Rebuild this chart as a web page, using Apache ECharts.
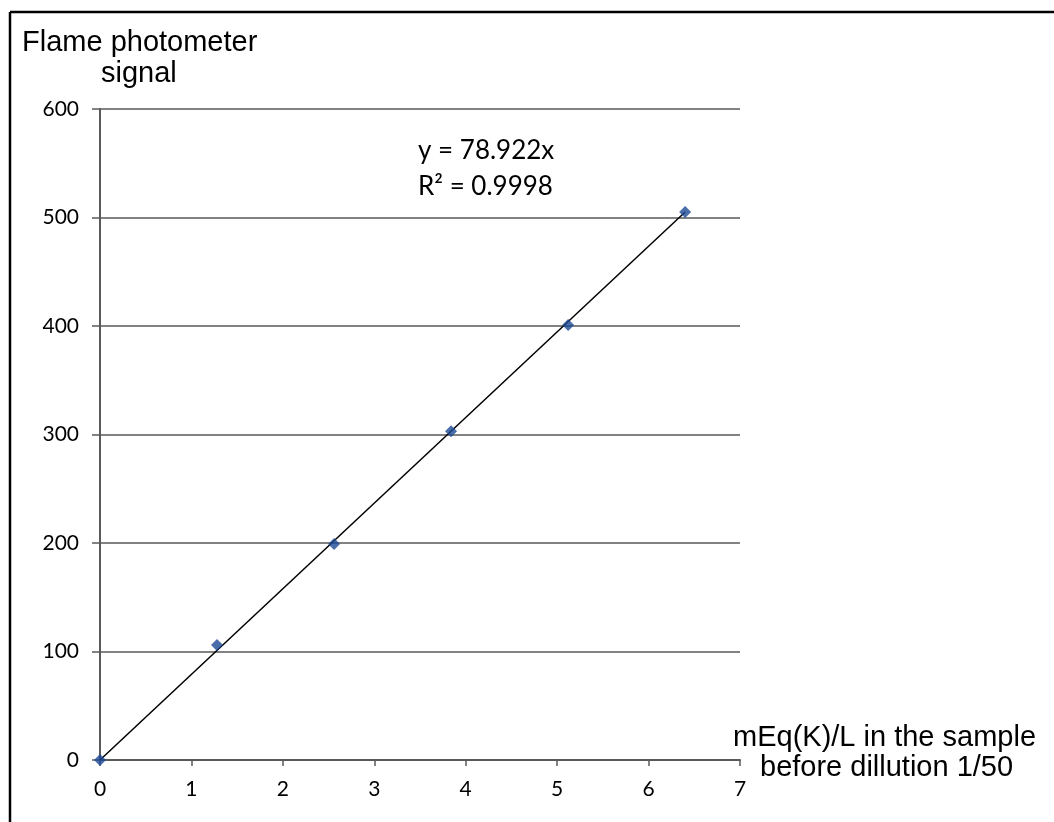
<!DOCTYPE html>
<html>
<head>
<meta charset="utf-8">
<script src="https://cdn.jsdelivr.net/npm/echarts@6/dist/echarts.min.js"></script>
<style>
  html, body { margin: 0; padding: 0; background: #fff; }
  #chart { width: 1054px; height: 822px; }
</style>
</head>
<body>
<div id="chart"></div>
<script>
const concentration = [0, 1.28, 2.56, 3.84, 5.12, 6.4];
const signal = [0, 106, 199, 303, 401, 505];
// linear trendline y = 78.922x, endpoints
const trendX = [0, 6.4];
const trendY = [0, 505.1];
const xTicks = [0, 1, 2, 3, 4, 5, 6, 7];
const yTicks = [0, 100, 200, 300, 400, 500, 600];

const chartDom = document.getElementById('chart');
const myChart = echarts.init(chartDom);

const axisGray = '#595959';
const tickFont = 'Lato';
const labelFont = '"Liberation Sans", Arial, sans-serif';

const option = {
  backgroundColor: '#fff',
  animation: false,
  grid: { left: 100, right: 314, top: 109, bottom: 62 },
  xAxis: {
    type: 'value',
    min: xTicks[0],
    max: xTicks[xTicks.length - 1],
    interval: 1,
    axisLine: { lineStyle: { color: axisGray, width: 2 } },
    axisTick: { show: true, length: 6, lineStyle: { color: axisGray, width: 1.5 } },
    axisLabel: { color: '#000', fontSize: 21, fontFamily: tickFont, margin: 19 },
    splitLine: { show: false }
  },
  yAxis: {
    type: 'value',
    min: yTicks[0],
    max: yTicks[yTicks.length - 1],
    interval: 100,
    axisLine: { show: true, lineStyle: { color: axisGray, width: 2 } },
    axisTick: { show: true, inside: false, length: 8, lineStyle: { color: axisGray, width: 1.5 } },
    axisLabel: { color: '#000', fontSize: 21, fontFamily: tickFont, margin: 21 },
    splitLine: { show: true, lineStyle: { color: axisGray, width: 1.5 } }
  },
  series: [
    {
      name: 'trend',
      type: 'line',
      data: trendX.map((x, i) => [x, trendY[i]]),
      showSymbol: false,
      symbol: 'none',
      lineStyle: { color: '#000', width: 1.5 },
      silent: true,
      z: 3
    },
    {
      name: 'signal',
      type: 'scatter',
      data: concentration.map((x, i) => [x, signal[i]]),
      symbol: 'diamond',
      symbolSize: 12,
      itemStyle: { color: '#1B4A93' },
      z: 4
    }
  ],
  graphic: [
    // picture frame (top and left edges only visible)
    { type: 'line', shape: { x1: 10, y1: 12, x2: 1054, y2: 12 }, style: { stroke: '#000', lineWidth: 2.5 } },
    { type: 'line', shape: { x1: 10, y1: 12, x2: 10, y2: 822 }, style: { stroke: '#000', lineWidth: 2.5 } },
    {
      type: 'text', x: 22, y: 43,
      style: { text: 'Flame photometer', font: '29px ' + labelFont, fill: '#000', verticalAlign: 'middle' }
    },
    {
      type: 'text', x: 101, y: 74,
      style: { text: 'signal', font: '29px ' + labelFont, fill: '#000', verticalAlign: 'middle' }
    },
    {
      type: 'text', x: 418, y: 151,
      style: { text: 'y = 78.922x', font: '26px ' + tickFont, fill: '#000', verticalAlign: 'middle' }
    },
    {
      type: 'text', x: 418, y: 187,
      style: { text: 'R² = 0.9998', font: '26px ' + tickFont, fill: '#000', verticalAlign: 'middle' }
    },
    {
      type: 'text', x: 733, y: 738,
      style: { text: 'mEq(K)/L in the sample', font: '29px ' + labelFont, fill: '#000', verticalAlign: 'middle' }
    },
    {
      type: 'text', x: 760, y: 768,
      style: { text: 'before dillution 1/50', font: '29px ' + labelFont, fill: '#000', verticalAlign: 'middle' }
    }
  ]
};

myChart.setOption(option);
</script>
</body>
</html>
